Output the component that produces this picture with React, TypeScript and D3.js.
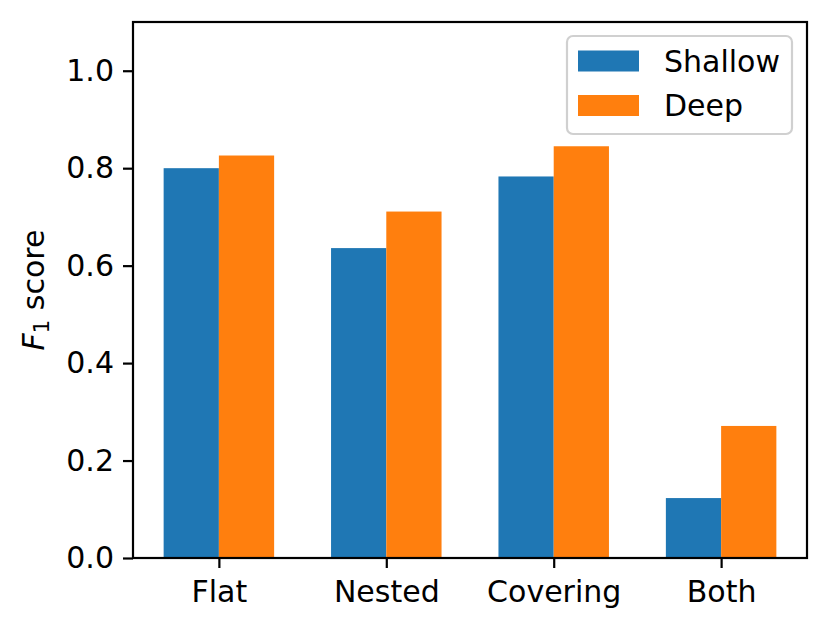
import * as d3 from "d3";
import { useEffect, useRef } from "react";

const categories = ["Flat", "Nested", "Covering", "Both"];
const shallow = [0.8, 0.636, 0.783, 0.123];
const deep = [0.826, 0.711, 0.845, 0.271];
const seriesNames = ["Shallow", "Deep"];
const yTicks = [0.0, 0.2, 0.4, 0.6, 0.8, 1.0];

const colors = ["#1f77b4", "#ff7f0e"];
const font = "'DejaVu Sans', sans-serif";

export default function App() {
    let ref = useRef<HTMLDivElement | null>(null);

    useEffect(() => {
        const width = 829;
        const height = 630;
        const margin = { top: 22, right: 22, bottom: 72, left: 133 };
        const barWidth = 0.33;
        const fontSize = "30px";

        d3.select(ref.current).selectAll("*").remove();

        const svg = d3
            .select(ref.current)
            .append("svg")
            .attr("width", width)
            .attr("height", height)
            .style("display", "block")
            .style("font-family", font);

        const XScale = d3.scaleLinear(
            [-barWidth - 0.183, categories.length - 1 + barWidth + 0.183],
            [margin.left, width - margin.right]
        );
        const YScale = d3.scaleLinear([0, 1.1], [height - margin.bottom, margin.top]);

        const series = [shallow, deep];
        series.forEach((values, s) => {
            svg.append("g")
                .selectAll("rect")
                .data(values)
                .join("rect")
                .attr("x", (_, i) => XScale(i + (s === 0 ? -barWidth : 0)))
                .attr("y", (d) => YScale(d))
                .attr("width", XScale(barWidth) - XScale(0))
                .attr("height", (d) => YScale(0) - YScale(d))
                .attr("fill", colors[s]);
        });

        // y axis
        const YAxis = d3
            .axisLeft(YScale)
            .tickValues(yTicks)
            .tickFormat(d3.format(".1f"))
            .tickSize(10)
            .tickPadding(9);
        const yg = svg
            .append("g")
            .attr("transform", `translate(${margin.left},0)`)
            .call(YAxis);

        // x axis
        const XAxis = d3
            .axisBottom(XScale)
            .tickValues(categories.map((_, i) => i))
            .tickFormat((d) => categories[d as number])
            .tickSize(10)
            .tickPadding(11);
        const xg = svg
            .append("g")
            .attr("transform", `translate(0,${height - margin.bottom})`)
            .call(XAxis);

        [yg, xg].forEach((g) => {
            g.select(".domain").remove();
            g.selectAll("line").attr("stroke", "#000").attr("stroke-width", 2.2);
            g.selectAll("text")
                .attr("fill", "#000")
                .style("font-size", fontSize)
                .style("font-family", font);
        });
        xg.selectAll("text").attr("dy", "0.76em");

        // frame
        svg.append("rect")
            .attr("x", margin.left)
            .attr("y", margin.top)
            .attr("width", width - margin.left - margin.right)
            .attr("height", height - margin.top - margin.bottom)
            .attr("fill", "none")
            .attr("stroke", "#000")
            .attr("stroke-width", 2.2);

        // y label
        const ylab = svg
            .append("text")
            .attr("transform", `translate(43.5,${(margin.top + height - margin.bottom) / 2}) rotate(-90)`)
            .attr("text-anchor", "middle")
            .style("font-size", fontSize)
            .attr("fill", "#000");
        ylab.append("tspan").style("font-style", "italic").text("F");
        ylab.append("tspan").attr("dy", 5).style("font-size", "21px").text("1");
        ylab.append("tspan").attr("dy", -5).text("\u00a0score");

        // legend
        const lg = svg.append("g");
        lg.append("rect")
            .attr("x", 567)
            .attr("y", 36)
            .attr("width", 225)
            .attr("height", 98)
            .attr("rx", 6)
            .attr("fill", "rgba(255,255,255,0.8)")
            .attr("stroke", "#d0d0d0")
            .attr("stroke-width", 2.2);
        seriesNames.forEach((name, i) => {
            const cy = 61 + i * 44.5;
            lg.append("rect")
                .attr("x", 578)
                .attr("y", cy - 10.5)
                .attr("width", 61)
                .attr("height", 21)
                .attr("fill", colors[i]);
            lg.append("text")
                .attr("x", 664)
                .attr("y", cy)
                .attr("dy", "0.36em")
                .style("font-size", fontSize)
                .attr("fill", "#000")
                .text(name);
        });
    }, []);

    return (
        <div style={{ position: "absolute", left: 0, top: 0 }} ref={ref} />
    );
}
